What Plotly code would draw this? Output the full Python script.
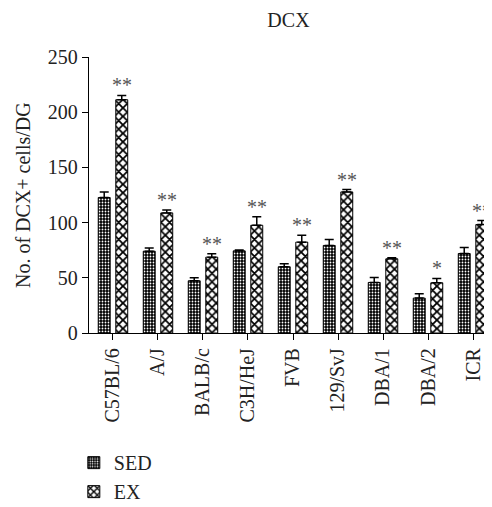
import plotly.graph_objects as go

strains = ["C57BL/6", "A/J", "BALB/c", "C3H/HeJ", "FVB", "129/SvJ", "DBA/1", "DBA/2", "ICR"]
sed_mean = [122.7, 74.1, 47.3, 74.4, 60.0, 79.3, 45.8, 31.6, 72.0]
sed_err = [5.1, 3.0, 2.7, 0.8, 2.7, 5.4, 4.5, 3.9, 5.5]
ex_mean = [211.3, 108.8, 68.7, 97.6, 82.3, 127.8, 67.2, 45.5, 98.2]
ex_err = [3.9, 2.7, 3.0, 7.6, 6.3, 2.1, 0.9, 3.9, 3.7]
ex_sig = ["**", "**", "**", "**", "**", "**", "**", "*", "**"]

FONT = "Liberation Serif, Times New Roman, serif"
FS = 20

fig = go.Figure()
fig.add_trace(go.Bar(
    name="SED", x=strains, y=sed_mean,
    marker=dict(color="black", line=dict(color="black", width=1),
                pattern=dict(shape=".", fgcolor="white", bgcolor="black",
                             size=3, solidity=0.3, fillmode="replace")),
    error_y=dict(type="data", symmetric=False, array=sed_err,
                 arrayminus=[0] * len(sed_err), color="black",
                 thickness=1.5, width=4.5),
))
fig.add_trace(go.Bar(
    name="EX", x=strains, y=ex_mean,
    marker=dict(color="white", line=dict(color="black", width=1),
                pattern=dict(shape="x", fgcolor="black", bgcolor="white",
                             size=6, solidity=0.5, fillmode="replace")),
    error_y=dict(type="data", symmetric=False, array=ex_err,
                 arrayminus=[0] * len(ex_err), color="black",
                 thickness=1.5, width=4.5),
))

for s, m, e, t in zip(strains, ex_mean, ex_err, ex_sig):
    fig.add_annotation(x=s, y=m + e, text=t, showarrow=False,
                       xshift=9, yanchor="bottom", yshift=-3,
                       font=dict(family=FONT, size=FS, color="#555"))

# y-axis title
fig.add_annotation(text="No. of DCX+ cells/DG", xref="paper", yref="paper",
                   x=0, y=0.5, xanchor="center", yanchor="middle",
                   xshift=-66, textangle=-90, showarrow=False,
                   font=dict(family=FONT, size=FS, color="#222"))

# page body has an 8px default margin, so the figure is 8px smaller
fig.update_layout(
    width=484, height=499,
    margin=dict(l=81, r=0, t=49, b=174, autoexpand=False),
    paper_bgcolor="white", plot_bgcolor="white",
    font=dict(family=FONT, size=FS, color="#222"),
    barmode="group", bargap=0.22, bargroupgap=0.32,
    title=dict(text="DCX", x=0.5795, xanchor="center", y=0.976, yanchor="middle",
               font=dict(family=FONT, size=FS, color="#222")),
    showlegend=True,
    legend=dict(orientation="v", xref="container", yref="container",
                x=0.136, y=0.128, xanchor="left", yanchor="top",
                font=dict(family=FONT, size=FS, color="#222"),
                bgcolor="rgba(0,0,0,0)"),
)
fig.update_xaxes(range=[-0.533, 8.422], showline=True, linecolor="black",
                 linewidth=1.3, ticks="outside", ticklen=6, tickcolor="black",
                 tickwidth=1.3, tickangle=-90, showgrid=False, zeroline=False,
                 automargin=False)
fig.update_yaxes(range=[0, 250], showline=True, linecolor="black",
                 linewidth=1.3, ticks="outside", ticklen=6, tickcolor="black",
                 tickwidth=1.3, tickvals=[0, 50, 100, 150, 200, 250],
                 showgrid=False, zeroline=False, automargin=False)

fig.write_html("out.html")
